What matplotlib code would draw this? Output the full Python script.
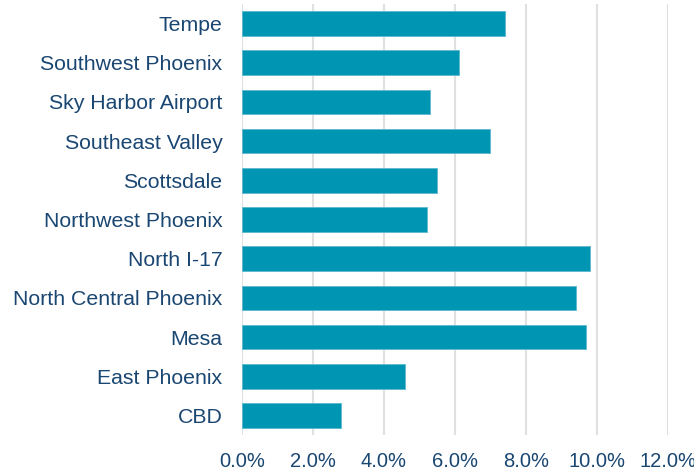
import matplotlib.pyplot as plt
from matplotlib.ticker import PercentFormatter

# submarket rates, top to bottom as in the chart
submarkets = ["Tempe", "Southwest Phoenix", "Sky Harbor Airport", "Southeast Valley",
              "Scottsdale", "Northwest Phoenix", "North I-17", "North Central Phoenix",
              "Mesa", "East Phoenix", "CBD"]
rates = [7.4, 6.1, 5.3, 7.0, 5.5, 5.2, 9.8, 9.4, 9.7, 4.6, 2.8]
xticks = [0, 2, 4, 6, 8, 10, 12]

text_color = "#1A4672"
bar_color = "#0095B3"

plt.rcParams['font.family'] = ['Liberation Sans', 'DejaVu Sans']

fig = plt.figure(figsize=(6.94, 4.71), dpi=100)
ax = fig.add_axes([0.3487, 0.0764, 0.6138, 0.9151])

pos = list(range(len(submarkets)))
ax.barh(pos, rates, height=0.63, color=bar_color, edgecolor="#5CB8CF", linewidth=0.6, zorder=3)

ax.set_ylim(len(submarkets) - 0.5, -0.5)
ax.set_yticks(pos)
ax.set_yticklabels(submarkets)
ax.set_xlim(0, 12)
ax.set_xticks(xticks)
ax.xaxis.set_major_formatter(PercentFormatter(decimals=1))

ax.grid(axis="x", color="#E0E0E0", linewidth=1.5, zorder=0)
for s in ax.spines.values():
    s.set_visible(False)

ax.tick_params(axis="y", length=0, pad=14, labelsize=15.3, labelcolor=text_color)
ax.tick_params(axis="x", length=0, pad=12, labelsize=14.5, labelcolor=text_color)

fig.savefig("out.png", dpi=100)
